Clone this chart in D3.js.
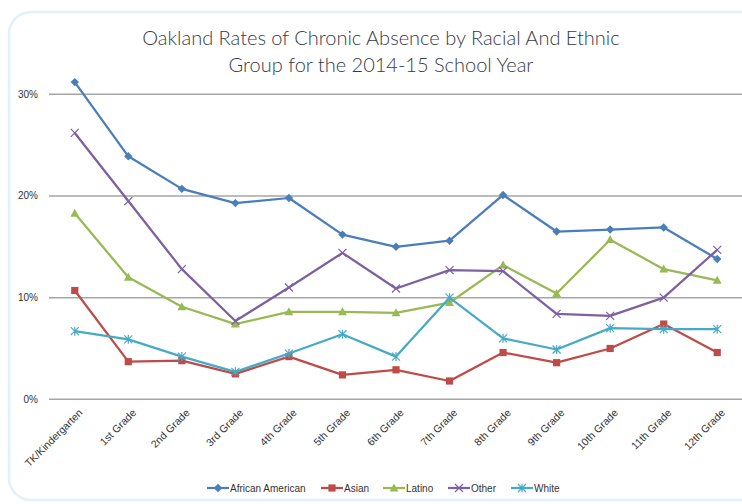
<!DOCTYPE html>
<html>
<head>
<meta charset="utf-8">
<script src="https://cdn.jsdelivr.net/npm/d3@7"></script>
<style>
  html, body { margin: 0; padding: 0; background: #ffffff; }
  svg { display: block; }
</style>
</head>
<body>
<svg id="chart" width="742" height="504"></svg>
<script>

// grades along the x axis
var grades = ["TK/Kindergarten", "1st Grade", "2nd Grade", "3rd Grade", "4th Grade", "5th Grade",
  "6th Grade", "7th Grade", "8th Grade", "9th Grade", "10th Grade", "11th Grade", "12th Grade"];

// chronic absence rate, percent
var africanAmerican = [31.2, 23.9, 20.7, 19.3, 19.8, 16.2, 15.0, 15.6, 20.1, 16.5, 16.7, 16.9, 13.8];
var asian           = [10.7, 3.7, 3.8, 2.5, 4.2, 2.4, 2.9, 1.8, 4.6, 3.6, 5.0, 7.4, 4.6];
var latino          = [18.3, 12.0, 9.1, 7.4, 8.6, 8.6, 8.5, 9.5, 13.2, 10.4, 15.7, 12.8, 11.7];
var other           = [26.2, 19.5, 12.8, 7.7, 11.0, 14.4, 10.9, 12.7, 12.6, 8.4, 8.2, 10.0, 14.7];
var white           = [6.7, 5.9, 4.2, 2.7, 4.5, 6.4, 4.2, 10.0, 6.0, 4.9, 7.0, 6.9, 6.9];

var yTicks = [0, 10, 20, 30];

var seriesNames = ["African American", "Asian", "Latino", "Other", "White"];
var seriesValues = [africanAmerican, asian, latino, other, white];
var seriesColours = ["#4a7ebb", "#be4b48", "#98b954", "#7d60a0", "#46aac5"];
var seriesMarkers = ["diamond", "square", "triangle", "cross", "asterisk"];


var svg = d3.select("#chart");
var labelFont = "'Liberation Sans', Arial, sans-serif";


//--------------------------------------
// CARD + TITLE
//--------------------------------------

svg.append("rect")
  .attr("x", 9).attr("y", 12)
  .attr("width", 760).attr("height", 488)
  .attr("rx", 22).attr("ry", 22)
  .attr("fill", "#ffffff")
  .attr("stroke", "#e2f0f9")
  .attr("stroke-width", 2.5);

var title = svg.append("text")
  .attr("text-anchor", "middle")
  .attr("font-family", "Lato, 'Open Sans', sans-serif")
  .attr("font-weight", 300)
  .attr("font-size", 20)
  .attr("fill", "#363a48");

title.append("tspan").attr("x", 381).attr("y", 45)
  .text("Oakland Rates of Chronic Absence by Racial And Ethnic");
title.append("tspan").attr("x", 381).attr("y", 72)
  .text("Group for the 2014-15 School Year");


//--------------------------------------
// SCALES + AXES
//--------------------------------------

var x = d3.scaleBand().domain(grades).range([48, 744]).padding(0);
var y = d3.scaleLinear().domain([0, 30]).range([399.3, 94.3]);

function cx(g) { return x(g) + x.bandwidth() / 2; }

var grid = svg.append("g");

grid.selectAll("line").data(yTicks).enter().append("line")
  .attr("x1", 49).attr("x2", 742)
  .attr("y1", function(d) { return y(d); })
  .attr("y2", function(d) { return y(d); })
  .attr("stroke", "#a6a6a6")
  .attr("stroke-width", 1.5);

grid.selectAll("text").data(yTicks).enter().append("text")
  .attr("x", 38)
  .attr("y", function(d) { return y(d); })
  .attr("dy", "0.35em")
  .attr("text-anchor", "end")
  .attr("font-family", labelFont)
  .attr("font-size", 10)
  .attr("fill", "#333")
  .text(function(d) { return d + "%"; });

svg.append("g").selectAll("text").data(grades).enter().append("text")
  .attr("transform", function(d) { return "translate(" + (cx(d) + 4) + ",409) rotate(-45)"; })
  .attr("text-anchor", "end")
  .attr("dy", "0.6em")
  .attr("font-family", labelFont)
  .attr("font-size", 10.5)
  .attr("fill", "#333")
  .text(function(d) { return d; });


//--------------------------------------
// MARKERS
//--------------------------------------

function drawMarker(sel, kind, colour) {
  if (kind === "diamond") {
    sel.append("path").attr("d", "M0,-4.2L4.2,0L0,4.2L-4.2,0Z").attr("fill", colour);
  } else if (kind === "square") {
    sel.append("rect").attr("x", -3.6).attr("y", -3.6).attr("width", 7.2).attr("height", 7.2).attr("fill", colour);
  } else if (kind === "triangle") {
    sel.append("path").attr("d", "M0,-4.6L4.4,3.4L-4.4,3.4Z").attr("fill", colour);
  } else if (kind === "cross") {
    sel.append("path").attr("d", "M-4,-4L4,4M-4,4L4,-4").attr("stroke", colour).attr("stroke-width", 1.2).attr("fill", "none");
  } else {
    sel.append("path").attr("d", "M-4,-4L4,4M-4,4L4,-4M0,-4.5L0,4.5").attr("stroke", colour).attr("stroke-width", 1.2).attr("fill", "none");
  }
}


//--------------------------------------
// SERIES
//--------------------------------------

var line = d3.line()
  .x(function(d, i) { return cx(grades[i]); })
  .y(function(d) { return y(d); });

seriesValues.forEach(function(vals, s) {

  var g = svg.append("g");

  g.append("path")
    .attr("d", line(vals))
    .attr("fill", "none")
    .attr("stroke", seriesColours[s])
    .attr("stroke-width", 2.25)
    .attr("stroke-linejoin", "round");

  g.selectAll("g.pt").data(vals).enter().append("g")
    .attr("class", "pt")
    .attr("transform", function(d, i) { return "translate(" + cx(grades[i]) + "," + y(d) + ")"; })
    .each(function() { drawMarker(d3.select(this), seriesMarkers[s], seriesColours[s]); });

});


//--------------------------------------
// LEGEND
//--------------------------------------

var legendX = [207, 321, 383, 448, 511];

seriesNames.forEach(function(name, s) {

  var lg = svg.append("g").attr("transform", "translate(" + legendX[s] + ",488)");

  lg.append("line")
    .attr("x1", 0).attr("x2", 22)
    .attr("stroke", seriesColours[s])
    .attr("stroke-width", 2.25);

  drawMarker(lg.append("g").attr("transform", "translate(11,0)"), seriesMarkers[s], seriesColours[s]);

  lg.append("text")
    .attr("x", 23)
    .attr("dy", "0.35em")
    .attr("font-family", labelFont)
    .attr("font-size", 10)
    .attr("fill", "#333")
    .text(name);

});

</script>
</body>
</html>
